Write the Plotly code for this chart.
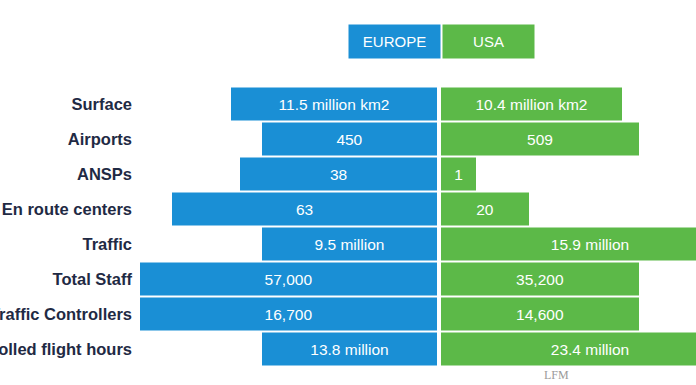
import plotly.graph_objects as go

categories = ["Surface", "Airports", "ANSPs", "En route centers", "Traffic",
              "Total Staff", "Air Traffic Controllers", "Controlled flight hours"]
europe_labels = ["11.5 million km2", "450", "38", "63", "9.5 million",
                 "57,000", "16,700", "13.8 million"]
usa_labels = ["10.4 million km2", "509", "1", "20", "15.9 million",
              "35,200", "14,600", "23.4 million"]
# displayed bar lengths (infographic scale)
europe_len = [206, 175, 197, 265, 175, 297, 297, 175]
usa_len = [181, 198, 35, 88, 298, 198, 198, 298]

BLUE = "#1a8fd5"
GREEN = "#5cb948"
NAVY = "#1f2a44"
W, H = 696, 385

fig = go.Figure()
fig.add_trace(go.Bar(
    y=categories, x=[-v for v in europe_len], base=-2, orientation="h",
    marker=dict(color=BLUE, line=dict(width=0)),
    text=europe_labels, textposition="inside", insidetextanchor="middle",
    textangle=0, constraintext="none",
    textfont=dict(color="white", size=15.5, family="Liberation Sans, Arial"),
    hoverinfo="skip", showlegend=False,
))
fig.add_trace(go.Bar(
    y=categories, x=usa_len, base=2, orientation="h",
    marker=dict(color=GREEN, line=dict(width=0)),
    text=usa_labels, textposition="inside", insidetextanchor="middle",
    textangle=0, constraintext="none",
    textfont=dict(color="white", size=15.5, family="Liberation Sans, Arial"),
    hoverinfo="skip", showlegend=False,
))

left = 139
fig.update_layout(
    width=W, height=H,
    margin=dict(l=left, r=0, t=0, b=0, autoexpand=False),
    paper_bgcolor="white", plot_bgcolor="white",
    barmode="overlay", bargap=0.06,
    uniformtext=dict(mode=False),
    xaxis=dict(range=[-(439 - left), W - 439], visible=False, fixedrange=True),
    yaxis=dict(
        categoryorder="array", categoryarray=categories,
        range=[(H - 104) / 35, -104 / 35],
        showgrid=False, zeroline=False, showline=False, ticks="",
        ticklabelstandoff=6, automargin=False, fixedrange=True,
        tickfont=dict(color=NAVY, size=16.5, family="Liberation Sans, Arial", weight="bold"),
    ),
    showlegend=False,
)

# legend boxes
for txt, col, x0 in [("EUROPE", BLUE, 348), ("USA", GREEN, 442)]:
    fig.add_annotation(
        xref="paper", yref="paper",
        x=(x0 - left) / (W - left), y=1 - 24 / H, xanchor="left", yanchor="top",
        text=txt, showarrow=False, bgcolor=col, width=91, height=33,
        borderpad=0, align="center", valign="middle",
        font=dict(color="white", size=15, family="Liberation Sans, Arial"),
    )

# watermark
fig.add_annotation(
    xref="paper", yref="paper", x=(556 - left) / (W - left), y=1 - 375 / H,
    xanchor="center", yanchor="middle", text="LFM", showarrow=False,
    font=dict(color="#9a9a9a", size=12, family="Liberation Serif, DejaVu Serif"),
)

fig.write_html(
    "out.html",
    config={"displayModeBar": False},
    post_script="document.body.style.margin='0';document.body.style.overflow='hidden';",
)
